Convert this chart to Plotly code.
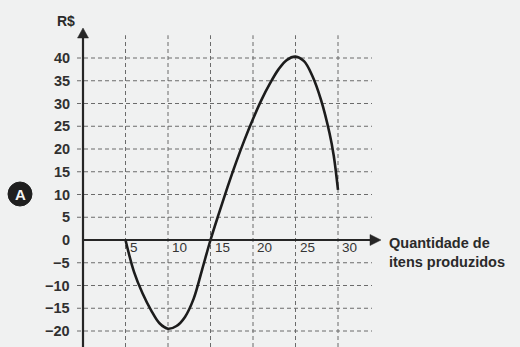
import plotly.graph_objects as go

# Profit (R$) as a function of the quantity of items produced
qty = [5, 6, 7, 8, 9, 10, 11, 12, 13, 14, 15, 16, 17, 18, 19, 20,
       21, 22, 23, 24, 25, 26, 27, 28, 29, 29.5, 30]
profit = [0, -7.0, -11.7, -15.4, -18.3, -19.5, -18.9, -16.9, -13.0, -6.6,
          0.0, 5.9, 11.6, 17.0, 22.0, 26.6, 30.8, 34.4, 37.5, 39.6, 40.3,
          39.3, 36.0, 30.8, 23.5, 18.5, 11.0]

x_ticks = [5, 10, 15, 20, 25, 30]
y_ticks = [40, 35, 30, 25, 20, 15, 10, 5, 0, -5, -10, -15, -20]
y_tick_text = ["40", "35", "30", "25", "20", "15", "10", "5", "0",
               "\u22125", "\u221210", "\u221215", "\u221220"]

W, H = 520, 347
# pixel geometry of the coordinate frame
PX0, PPX = 83, 8.5      # x = 0 position and pixels per unit
PY0, PPY = 240, 4.55    # y = 0 position and pixels per unit

def ux(px):
    return px / PPX

def uy(px):
    return px / PPY

x_range = [-PX0 / PPX, (W - PX0) / PPX]
y_range = [-(H - PY0) / PPY, PY0 / PPY]

INK = "#262626"
GRID = "#6b6b6b"
FONT = "Liberation Sans, Arial, sans-serif"

fig = go.Figure()

fig.add_trace(go.Scatter(
    x=qty, y=profit, mode="lines",
    line=dict(color="#1c1c1c", width=2.6, shape="spline", smoothing=1.0),
    hoverinfo="skip", showlegend=False,
))

shapes = []
grid_x_end = 34.0
grid_y_top = 45.0
# dashed grid
for v in y_ticks:
    if v == 0:
        continue
    shapes.append(dict(type="line", xref="x", yref="y", layer="below",
                       x0=-ux(6), x1=grid_x_end, y0=v, y1=v,
                       line=dict(color=GRID, width=1, dash="4px,3px")))
for v in x_ticks:
    shapes.append(dict(type="line", xref="x", yref="y", layer="below",
                       x0=v, x1=v, y0=y_range[0], y1=grid_y_top,
                       line=dict(color=GRID, width=1, dash="4px,3px")))

# axes with arrowheads
y_tip = uy(PY0 - 28)
x_tip = ux(381 - PX0)
shapes.append(dict(type="line", xref="x", yref="y", layer="above",
                   x0=0, x1=0, y0=y_range[0], y1=y_tip - uy(6),
                   line=dict(color=INK, width=2.2)))
shapes.append(dict(type="line", xref="x", yref="y", layer="above",
                   x0=0, x1=x_tip - ux(6), y0=0, y1=0,
                   line=dict(color=INK, width=2.2)))
shapes.append(dict(type="path", xref="x", yref="y", layer="above",
                   path=(f"M {-ux(5.5)},{y_tip - uy(10)} L 0,{y_tip} "
                         f"L {ux(5.5)},{y_tip - uy(10)} Z"),
                   fillcolor=INK, line=dict(color=INK, width=0.5)))
shapes.append(dict(type="path", xref="x", yref="y", layer="above",
                   path=(f"M {x_tip - ux(11)},{uy(5.5)} L {x_tip},0 "
                         f"L {x_tip - ux(11)},{-uy(5.5)} Z"),
                   fillcolor=INK, line=dict(color=INK, width=0.5)))

# option marker (circled letter)
cx, cy = ux(20 - PX0), uy(PY0 - 194)
shapes.append(dict(type="circle", xref="x", yref="y", layer="above",
                   xsizemode="pixel", ysizemode="pixel",
                   xanchor=cx, yanchor=cy, x0=-12, x1=12, y0=-12, y1=12,
                   fillcolor="#1f1f1f", line=dict(color="#1f1f1f", width=1)))

annotations = []
for v, t in zip(y_ticks, y_tick_text):
    annotations.append(dict(x=0, y=v, xref="x", yref="y", text=t,
                            showarrow=False, xanchor="right", yanchor="middle",
                            xshift=-11,
                            font=dict(family=FONT, size=14.5, color="#303030",
                                      weight="bold")))
for v in x_ticks:
    annotations.append(dict(x=v, y=0, xref="x", yref="y", text=str(v),
                            showarrow=False, xanchor="left", yanchor="middle",
                            xshift=2, yshift=-7,
                            font=dict(family=FONT, size=13.5, color="#353535")))

annotations.append(dict(x=ux(66 - PX0), y=uy(PY0 - 21), xref="x", yref="y",
                        text="R$", showarrow=False, xanchor="center",
                        yanchor="middle",
                        font=dict(family=FONT, size=14, color="#2a2a2a",
                                  weight="bold")))
annotations.append(dict(x=ux(387 - PX0), y=uy(PY0 - 243), xref="x", yref="y",
                        text="Quantidade de", showarrow=False,
                        xanchor="left", yanchor="middle",
                        font=dict(family=FONT, size=14.5, color="#2a2a2a",
                                  weight="bold")))
annotations.append(dict(x=ux(387 - PX0), y=uy(PY0 - 262), xref="x", yref="y",
                        text="itens produzidos", showarrow=False,
                        xanchor="left", yanchor="middle",
                        font=dict(family=FONT, size=14.5, color="#2a2a2a",
                                  weight="bold")))
annotations.append(dict(x=cx, y=cy, xref="x", yref="y", text="A",
                        showarrow=False, xanchor="center", yanchor="middle",
                        font=dict(family=FONT, size=15, color="#f4f4f4",
                                  weight="bold")))

fig.update_layout(
    width=W, height=H,
    margin=dict(l=0, r=0, t=0, b=0),
    paper_bgcolor="#f0f1f1", plot_bgcolor="#f0f1f1",
    xaxis=dict(range=x_range, visible=False, fixedrange=True),
    yaxis=dict(range=y_range, visible=False, fixedrange=True),
    shapes=shapes, annotations=annotations,
    showlegend=False,
)

fig.write_html("out.html")
